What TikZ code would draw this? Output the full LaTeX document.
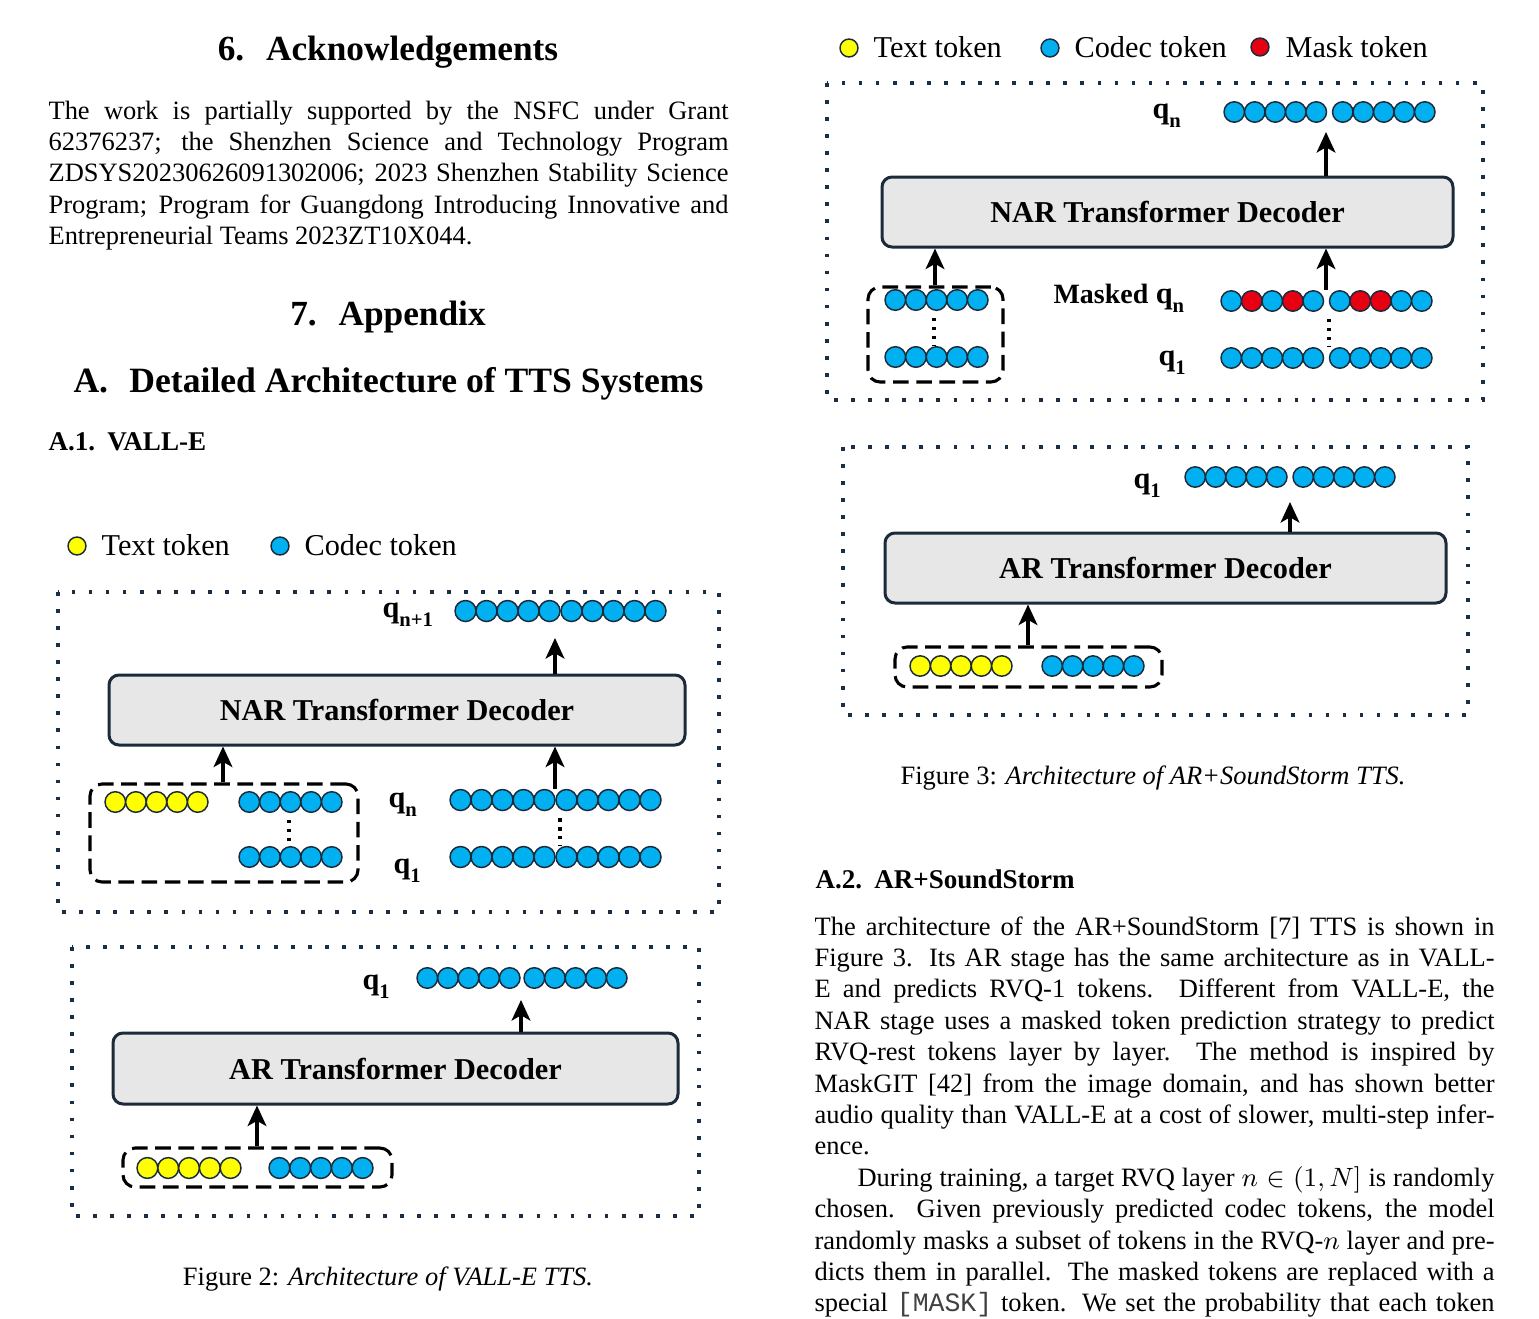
\documentclass[tikz,border=0pt]{standalone}
\usepackage{fontspec}
\setmainfont{Liberation Serif}
\setmonofont{Liberation Mono}
\usetikzlibrary{arrows.meta}
\newdimen\pxu \pxu=0.34pt
\definecolor{cy}{HTML}{FFFF00}
\definecolor{cb}{HTML}{00B0F0}
\definecolor{cr}{HTML}{E60012}
\definecolor{tokline}{HTML}{1C2B3A}
\definecolor{boxfill}{HTML}{E7E7E7}
\definecolor{boxline}{HTML}{1C2B3A}
\definecolor{dotline}{HTML}{1A2E45}
\newcommand\qlab[1]{q\raisebox{-3.3pt}{\fontsize{7}{7}\selectfont\bfseries #1}}
% name, left edge x, y, step, group gap, colours
\newcommand\tokrow[6]{%
  \foreach \c [count=\i from 0] in {#6} {
    \node[tok, minimum size=#4\pxu, fill=\c] (#1-\i) at ({#2 + (\i+0.5)*#4 + (\i>4)*#5}, #3) {};
  }}
\tikzset{
  tok/.style={circle, draw=tokline, line width=0.5pt, inner sep=0pt},
  legtok/.style={tok, minimum size=6.1pt},
  graybox/.style={draw=boxline, fill=boxfill, line width=1.02pt, rounded corners=3.4pt, inner sep=0pt, font=\fontsize{10.3}{12}\selectfont\bfseries},
  dashbox/.style={draw=black, line width=1.05pt, dash pattern=on 5.3pt off 2.6pt, rounded corners=4.1pt, inner sep=0pt},
  dotbox/.style={draw=dotline, line width=1.25pt, dash pattern=on 1.25pt off 4.55pt},
  vdots/.style={draw=black, line width=1.1pt, dash pattern=on 1.1pt off 1.95pt},
  arr/.style={-{Stealth[length=7pt, width=6.4pt, inset=1.8pt]}, line width=1.05pt, black},
  qlabel/.style={anchor=base west, inner sep=0pt, font=\fontsize{10.3}{12}\selectfont\bfseries},
  legtext/.style={anchor=base west, inner sep=0pt, font=\fontsize{10.3}{12}\selectfont},
  body/.style={anchor=base west, inner sep=0pt, font=\fontsize{9}{10.5}\selectfont},
  head/.style={anchor=base, inner sep=0pt, font=\fontsize{12}{14}\selectfont\bfseries},
  subhead/.style={anchor=base west, inner sep=0pt, font=\fontsize{9.2}{10.5}\selectfont\bfseries},
  capt/.style={anchor=base, inner sep=0pt, font=\fontsize{9}{10.5}\selectfont},
}
\begin{document}
\begin{tikzpicture}[x=0.34pt, y=-0.34pt]
\fill[white] (0,0) rectangle (1539,1319);
\useasboundingbox (0,0) rectangle (1539,1319);

% ---------------- left column text ----------------
\node[head] (h6) at (388,60) {6.\hspace{0.62em}Acknowledgements};
\node[body] (l1) at (48,119) {\makebox[680\pxu][s]{The work is partially supported by the NSFC under Grant}};
\node[body] (l2) at (48,150.4) {\makebox[680\pxu][s]{62376237; the Shenzhen Science and Technology Program}};
\node[body] (l3) at (48,181.8) {\makebox[680\pxu][s]{ZDSYS20230626091302006; 2023 Shenzhen Stability Science}};
\node[body] (l4) at (48,213.2) {\makebox[680\pxu][s]{Program; Program for Guangdong Introducing Innovative and}};
\node[body] (l5) at (48,244.6) {Entrepreneurial Teams 2023ZT10X044.};
\node[head] (h7) at (388,325) {7.\hspace{0.62em}Appendix};
\node[head, font=\fontsize{12.1}{14}\selectfont\bfseries] (hA) at (388.5,392) {A.\hspace{0.6em}Detailed Architecture of TTS Systems};
\node[subhead] (hA1) at (48,450) {A.1.\hspace{0.45em}VALL-E};

% ---------------- Figure 2 ----------------
\node[legtok, fill=cy] (lg2y) at (77,546) {};
\node[legtext] (lg2yt) at (101,555) {Text token};
\node[legtok, fill=cb] (lg2b) at (280,546) {};
\node[legtext] (lg2bt) at (304,555) {Codec token};

% NAR part
\draw[dotbox] (58,592) rectangle (719,912);
\node[graybox, minimum width=576\pxu, minimum height=70\pxu] (nar2) at (397,710) {NAR Transformer Decoder};
\node[qlabel] (lq2top) at (382,617) {\qlab{n+1}};
\tokrow{r2t}{455}{611}{21}{1}{cb,cb,cb,cb,cb,cb,cb,cb,cb,cb}
\node[dashbox, minimum width=268\pxu, minimum height=98\pxu] (d2) at (224,833) {};
\tokrow{d2y}{105}{802}{20.6}{0}{cy,cy,cy,cy,cy}
\tokrow{d2n}{239}{802}{20.6}{0}{cb,cb,cb,cb,cb}
\tokrow{d2q}{239}{857}{20.6}{0}{cb,cb,cb,cb,cb}
\node[qlabel] (lq2n) at (388,807) {\qlab{n}};
\node[qlabel] (lq21) at (393,873) {\qlab{1}};
\tokrow{r2n}{450}{800}{21}{1}{cb,cb,cb,cb,cb,cb,cb,cb,cb,cb}
\tokrow{r2q}{450}{857}{21}{1}{cb,cb,cb,cb,cb,cb,cb,cb,cb,cb}
\coordinate (x2L) at (223,0);
\coordinate (x2R) at (555,0);
\coordinate (t2tip) at (555,638);
\draw[arr] (d2.north -| x2L) -- (nar2.south -| x2L);
\draw[arr] (r2n-4.north -| x2R) -- (nar2.south -| x2R);
\draw[arr] (nar2.north -| x2R) -- (t2tip);
\coordinate (v2L) at (289,0);
\coordinate (v2R) at (560,0);
\draw[vdots, shorten <=2.4pt] (d2n-2.south -| v2L) -- (d2q-2.north -| v2L);
\draw[vdots, shorten <=2.4pt] (r2n-5.south -| v2R) -- (r2q-5.north -| v2R);

% AR part
\draw[dotbox] (72,947) rectangle (699,1216);
\node[graybox, minimum width=565\pxu, minimum height=71\pxu] (ar2) at (395.5,1068.5) {AR Transformer Decoder};
\node[qlabel] (lq2a) at (362,989) {\qlab{1}};
\tokrow{a2t}{417}{978}{20.6}{4}{cb,cb,cb,cb,cb,cb,cb,cb,cb,cb}
\node[dashbox, minimum width=269\pxu, minimum height=39\pxu] (da2) at (257.5,1167.5) {};
\tokrow{da2y}{137}{1168}{20.8}{0}{cy,cy,cy,cy,cy}
\tokrow{da2b}{269}{1168}{20.8}{0}{cb,cb,cb,cb,cb}
\coordinate (xa2L) at (257,0);
\coordinate (xa2R) at (521,0);
\coordinate (ta2tip) at (521,1000);
\draw[arr] (da2.north -| xa2L) -- (ar2.south -| xa2L);
\draw[arr] (ar2.north -| xa2R) -- (ta2tip);
\node[capt] (cap2) at (388,1285) {Figure 2: \textit{Architecture of VALL-E TTS.}};

% ---------------- Figure 3 ----------------
\node[legtok, fill=cy] (lg3y) at (849,48) {};
\node[legtext] (lg3yt) at (873,57) {Text token};
\node[legtok, fill=cb] (lg3b) at (1050,48) {};
\node[legtext] (lg3bt) at (1074,57) {Codec token};
\node[legtok, fill=cr] (lg3r) at (1260,47) {};
\node[legtext] (lg3rt) at (1285,57) {Mask token};

% NAR part
\draw[dotbox] (827,83) rectangle (1483,400);
\node[graybox, minimum width=571\pxu, minimum height=70\pxu] (nar3) at (1167.5,212) {NAR Transformer Decoder};
\node[qlabel] (lq3top) at (1152,118) {\qlab{n}};
\tokrow{r3t}{1224}{112}{20.5}{6}{cb,cb,cb,cb,cb,cb,cb,cb,cb,cb}
\node[dashbox, minimum width=135\pxu, minimum height=95\pxu] (d3) at (935.5,334.5) {};
\tokrow{d3n}{885}{300}{20.6}{0}{cb,cb,cb,cb,cb}
\tokrow{d3q}{885}{357}{20.6}{0}{cb,cb,cb,cb,cb}
\node[qlabel] (lq3m) at (1053,303) {{\fontsize{9.5}{11}\selectfont Masked}~\qlab{n}};
\node[qlabel] (lq31) at (1158,365) {\qlab{1}};
\tokrow{r3m}{1221}{301}{20.5}{6}{cb,cr,cb,cr,cb,cb,cr,cr,cb,cb}
\tokrow{r3q}{1221}{358}{20.5}{6}{cb,cb,cb,cb,cb,cb,cb,cb,cb,cb}
\coordinate (x3L) at (935,0);
\coordinate (x3R) at (1326,0);
\coordinate (t3tip) at (1326,132);
\draw[arr] (d3.north -| x3L) -- (nar3.south -| x3L);
\draw[arr] (r3m-4.north -| x3R) -- (nar3.south -| x3R);
\draw[arr] (nar3.north -| x3R) -- (t3tip);
\coordinate (v3L) at (934,0);
\coordinate (v3R) at (1329,0);
\draw[vdots, shorten <=2.4pt] (d3n-2.south -| v3L) -- (d3q-2.north -| v3L);
\draw[vdots, shorten <=2.4pt] (r3m-5.south -| v3R) -- (r3q-5.north -| v3R);

% AR part
\draw[dotbox] (843,447) rectangle (1468,715);
\node[graybox, minimum width=561\pxu, minimum height=70\pxu] (ar3) at (1165.5,568) {AR Transformer Decoder};
\node[qlabel] (lq3a) at (1133,488) {\qlab{1}};
\tokrow{a3t}{1185}{477}{20.4}{6}{cb,cb,cb,cb,cb,cb,cb,cb,cb,cb}
\node[dashbox, minimum width=267\pxu, minimum height=40\pxu] (da3) at (1028.5,667) {};
\tokrow{da3y}{910}{666}{20.4}{0}{cy,cy,cy,cy,cy}
\tokrow{da3b}{1042}{666}{20.4}{0}{cb,cb,cb,cb,cb}
\coordinate (xa3L) at (1028,0);
\coordinate (xa3R) at (1290,0);
\coordinate (ta3tip) at (1290,502);
\draw[arr] (da3.north -| xa3L) -- (ar3.south -| xa3L);
\draw[arr] (ar3.north -| xa3R) -- (ta3tip);
\node[capt] (cap3) at (1153,784) {Figure 3: \textit{Architecture of AR+SoundStorm TTS.}};

% ---------------- right column text ----------------
\node[subhead] (hA2) at (815,888) {A.2.\hspace{0.45em}AR+SoundStorm};
\node[body] (r1) at (814,935) {\makebox[680\pxu][s]{The architecture of the AR+SoundStorm [7] TTS is shown in}};
\node[body] (r2) at (814,966.4) {\makebox[680\pxu][s]{Figure 3.  Its AR stage has the same architecture as in VALL-}};
\node[body] (r3) at (814,997.8) {\makebox[680\pxu][s]{E and predicts RVQ-1 tokens.  Different from VALL-E, the}};
\node[body] (r4) at (814,1029.2) {\makebox[680\pxu][s]{NAR stage uses a masked token prediction strategy to predict}};
\node[body] (r5) at (814,1060.6) {\makebox[680\pxu][s]{RVQ-rest tokens layer by layer.  The method is inspired by}};
\node[body] (r6) at (814,1092) {\makebox[680\pxu][s]{MaskGIT [42] from the image domain, and has shown better}};
\node[body] (r7) at (814,1123.4) {\makebox[680\pxu][s]{audio quality than VALL-E at a cost of slower, multi-step infer-}};
\node[body] (r8) at (814,1154.8) {ence.};
\node[body] (r9) at (857,1186.2) {\makebox[637\pxu][s]{During training, a target RVQ layer $n \in (1, N]$ is randomly}};
\node[body] (r10) at (814,1217.6) {\makebox[680\pxu][s]{chosen.  Given previously predicted codec tokens, the model}};
\node[body] (r11) at (814,1249) {\makebox[680\pxu][s]{randomly masks a subset of tokens in the RVQ-$n$ layer and pre-}};
\node[body] (r12) at (814,1280.4) {\makebox[680\pxu][s]{dicts them in parallel.  The masked tokens are replaced with a}};
\node[body] (r13) at (814,1311.8) {\makebox[680\pxu][s]{special {\color{black!75}\texttt{[MASK]}} token.  We set the probability that each token}};
\end{tikzpicture}
\end{document}
